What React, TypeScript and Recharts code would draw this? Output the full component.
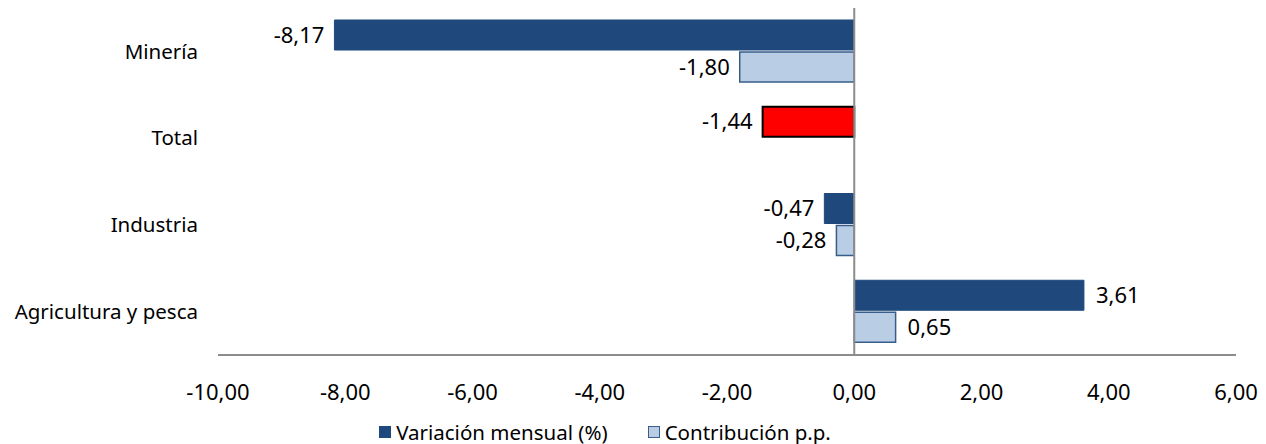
import { BarChart, Bar, XAxis, YAxis, Cell, LabelList, ReferenceLine, Legend } from 'recharts';

const categories = ['Minería', 'Total', 'Industria', 'Agricultura y pesca'];
const variacion = [-8.17, -1.44, -0.47, 3.61];
const contribucion: (number | null)[] = [-1.8, null, -0.28, 0.65];
const xTicks = [-10, -8, -6, -4, -2, 0, 2, 4, 6];

const DARK = '#1F497D';
const LIGHT = '#B9CDE5';
const LIGHT_BORDER = '#385D8A';
const AXIS = '#8C8C8C';
const FONT = '"Noto Sans", sans-serif';
const TEXT_SIZE = 20.5;
const NUM_SIZE = 22;

const data = categories.map((name, i) => ({
  name,
  variacion: variacion[i],
  contribucion: contribucion[i],
}));

const fmt = (v: number) => v.toFixed(2).replace('.', ',');

const renderValue = (props: any) => {
  const { x, y, width, height, value } = props;
  if (value === null || value === undefined) return null;
  const end = Number(x) + Number(width);
  const neg = value < 0;
  // for negative bars the tip sits at the smaller x
  const tipX = neg ? Math.min(Number(x), end) : Math.max(Number(x), end);
  return (
    <text
      x={neg ? tipX - 10 : tipX + 12}
      y={Number(y) + Number(height) / 2}
      dy="0.35em"
      textAnchor={neg ? 'end' : 'start'}
      fontSize={NUM_SIZE}
      fontFamily={FONT}
      fill="#000"
    >
      {fmt(value)}
    </text>
  );
};

const renderLegend = () => (
  <div style={{ display: 'flex', justifyContent: 'center', gap: 40, fontFamily: FONT, fontSize: TEXT_SIZE, color: '#000', paddingRight: 26, paddingTop: 3 }}>
    <span style={{ display: 'flex', alignItems: 'center', gap: 5 }}>
      <span style={{ width: 12, height: 12, background: DARK, display: 'inline-block' }} />
      Variación mensual (%)
    </span>
    <span style={{ display: 'flex', alignItems: 'center', gap: 5 }}>
      <span style={{ width: 10, height: 10, background: LIGHT, border: `1px solid ${LIGHT_BORDER}`, display: 'inline-block' }} />
      Contribución p.p.
    </span>
  </div>
);

export default function App() {
  return (
    <div style={{ position: 'absolute', left: 0, top: 0, background: '#fff' }}>
      <BarChart
        width={1266}
        height={444}
        data={data}
        layout="vertical"
        margin={{ top: 8, right: 30, bottom: 0, left: 0 }}
        barCategoryGap={12}
        barGap={2}
      >
        <XAxis
          type="number"
          domain={[-10, 6]}
          ticks={xTicks}
          tickFormatter={fmt}
          axisLine={{ stroke: AXIS, strokeWidth: 2 }}
          tickLine={false}
          tickMargin={23}
          height={60}
          interval={0}
          tick={{ fontSize: NUM_SIZE, fontFamily: FONT, fill: '#000' }}
        />
        <YAxis
          type="category"
          dataKey="name"
          axisLine={false}
          tickLine={false}
          width={218}
          tickMargin={14}
          tick={{ fontSize: TEXT_SIZE, fontFamily: FONT, fill: '#000' }}
        />
        <ReferenceLine x={0} stroke={AXIS} strokeWidth={2} />
        <Legend verticalAlign="bottom" height={29} content={renderLegend} />
        <Bar dataKey="variacion" fill={DARK} stroke={DARK} isAnimationActive={false}>
          {data.map((d) => (
            <Cell
              key={d.name}
              fill={d.name === 'Total' ? '#FF0000' : DARK}
              stroke={d.name === 'Total' ? '#000' : DARK}
              strokeWidth={d.name === 'Total' ? 2 : 1}
            />
          ))}
          <LabelList dataKey="variacion" content={renderValue} />
        </Bar>
        <Bar dataKey="contribucion" fill={LIGHT} stroke={LIGHT_BORDER} strokeWidth={1.5} isAnimationActive={false}>
          <LabelList dataKey="contribucion" content={renderValue} />
        </Bar>
      </BarChart>
    </div>
  );
}
